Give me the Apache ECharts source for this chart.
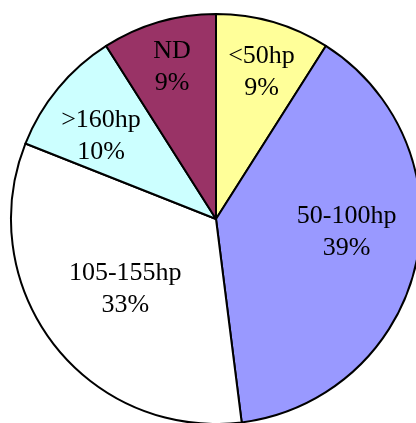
<!DOCTYPE html>
<html><head><meta charset="utf-8">
<script src="https://cdn.jsdelivr.net/npm/echarts@6/dist/echarts.min.js"></script>
<style>html,body{margin:0;padding:0;background:#fff}#c{width:416px;height:423px}</style>
</head><body><div id="c"></div>
<script>
const categories = ['<50hp', '50-100hp', '105-155hp', '>160hp', 'ND'];
const shares = [9, 39, 33, 10, 9];
const colors = ['#FFFF99', '#9999FF', '#FFFFFF', '#CCFFFF', '#993366'];
const labelDist = [0.75, 0.64, 0.56, 0.69, 0.77];
const labelAngleShift = [1, -7, 0, -4, 0];

const CX = 216, CY = 219, R = 205;
const chart = echarts.init(document.getElementById('c'));
chart.setOption({
  backgroundColor: '#fff',
  animation: false,
  series: [{
    type: 'pie',
    center: [CX, CY],
    radius: [0, R],
    startAngle: 90,
    clockwise: true,
    avoidLabelOverlap: false,
    data: categories.map((c, i) => ({ name: c, value: shares[i], itemStyle: { color: colors[i] } })),
    itemStyle: { borderColor: '#000', borderWidth: 2 },
    label: {
      show: true,
      position: 'inside',
      formatter: p => p.name + '\n' + p.value + '%',
      fontFamily: 'Liberation Serif',
      fontSize: 26,
      lineHeight: 32,
      color: '#000'
    },
    labelLine: { show: false },
    emphasis: { disabled: true },
    labelLayout: function (params) {
      const r = params.labelRect;
      const lx = r.x + r.width / 2, ly = r.y + r.height / 2;
      const dx = lx - CX, dy = ly - CY;
      const theta = Math.atan2(dx, -dy) + labelAngleShift[params.dataIndex] * Math.PI / 180;
      const d = labelDist[params.dataIndex] * R;
      return { x: CX + d * Math.sin(theta), y: CY - d * Math.cos(theta) };
    }
  }]
});
</script></body></html>
